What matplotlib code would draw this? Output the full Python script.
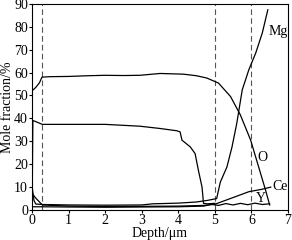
import numpy as np
import matplotlib.pyplot as plt

plt.rcParams['font.family'] = ['Liberation Serif', 'DejaVu Serif']
plt.rcParams['mathtext.fontset'] = 'stix'

# O curve
o_x = [0.0, 0.1, 0.2, 0.27, 0.5, 1.0, 1.5, 2.0, 2.5, 2.95, 3.5, 4.14, 4.5, 4.78, 5.1, 5.43, 5.7, 5.98, 6.2, 6.39, 6.5]
o_y = [52.0, 53.5, 55.5, 58.0, 58.2, 58.3, 58.6, 58.8, 58.7, 58.8, 59.6, 59.3, 58.6, 57.6, 55.4, 49.5, 41.4, 30.4, 18.6, 8.4, 2.0]

# unlabeled curve (~38 %)
a_x = [0.0, 0.02, 0.1, 0.28, 1.0, 2.0, 2.95, 3.5, 3.96, 4.05, 4.1, 4.33, 4.46, 4.55, 4.65, 4.69, 4.8, 5.0]
a_y = [1.0, 39.0, 38.5, 37.3, 37.3, 37.3, 36.5, 35.5, 34.5, 34.0, 30.4, 27.4, 24.5, 17.2, 9.8, 2.7, 2.5, 2.7]

# Mg
mg_x = [0.0, 0.05, 0.1, 0.3, 1.0, 2.0, 3.0, 3.3, 4.0, 4.5, 4.8, 5.05, 5.15, 5.33, 5.47, 5.6, 5.75, 5.93, 6.12, 6.3, 6.45]
mg_y = [10.0, 4.0, 2.4, 2.2, 2.0, 1.9, 2.0, 2.5, 2.8, 3.3, 4.0, 4.8, 12.0, 18.6, 27.4, 37.7, 52.4, 61.2, 68.6, 77.4, 87.5]

# Ce
ce_x = [0.0, 0.1, 0.28, 1.0, 2.0, 3.0, 4.0, 4.7, 5.0, 5.56, 5.93, 6.3, 6.53]
ce_y = [7.0, 5.0, 2.0, 1.5, 1.3, 1.4, 1.5, 1.8, 2.3, 5.6, 7.8, 8.9, 9.8]

# Y
y_x = [0.0, 0.3, 1.0, 2.0, 3.0, 4.0, 4.7, 4.9, 5.1, 5.3, 5.5, 5.7, 5.9, 6.1, 6.3, 6.5]
y_y = [1.2, 1.2, 1.1, 1.0, 1.1, 1.2, 1.5, 2.3, 1.8, 2.6, 2.0, 2.7, 2.1, 2.8, 2.2, 2.5]

dash_x = [0.27, 5.0, 6.0]

fig = plt.figure(figsize=(2.92, 2.4), dpi=100)
ax = fig.add_axes([0.11, 0.127, 0.876, 0.856])

for xv in dash_x:
    ax.axvline(xv, color='#555555', lw=0.8, ls=(0, (5, 3)))

lw = 0.9
ax.plot(o_x, o_y, color='black', lw=lw)
ax.plot(a_x, a_y, color='black', lw=lw)
ax.plot(mg_x, mg_y, color='black', lw=lw)
ax.plot(ce_x, ce_y, color='black', lw=lw)
ax.plot(y_x, y_y, color='black', lw=lw)

ax.text(6.47, 78, 'Mg', fontsize=10, va='center', ha='left')
ax.text(6.16, 23, 'O', fontsize=10, va='center', ha='left')
ax.text(6.57, 10, 'Ce', fontsize=10, va='center', ha='left')
ax.text(6.11, 4.8, 'Y', fontsize=10, va='center', ha='left')

ax.set_xlim(0, 7)
ax.set_ylim(0, 90)
ax.set_xticks(range(0, 8))
ax.set_yticks(range(0, 91, 10))
ax.tick_params(direction='out', length=2, width=0.8, labelsize=10, pad=1)
for s in ax.spines.values():
    s.set_linewidth(0.8)
ax.set_xlabel('Depth/μm', fontsize=10, labelpad=0)
ax.set_ylabel('Mole fraction/%', fontsize=10, labelpad=0)

fig.savefig('out.png', dpi=100)
